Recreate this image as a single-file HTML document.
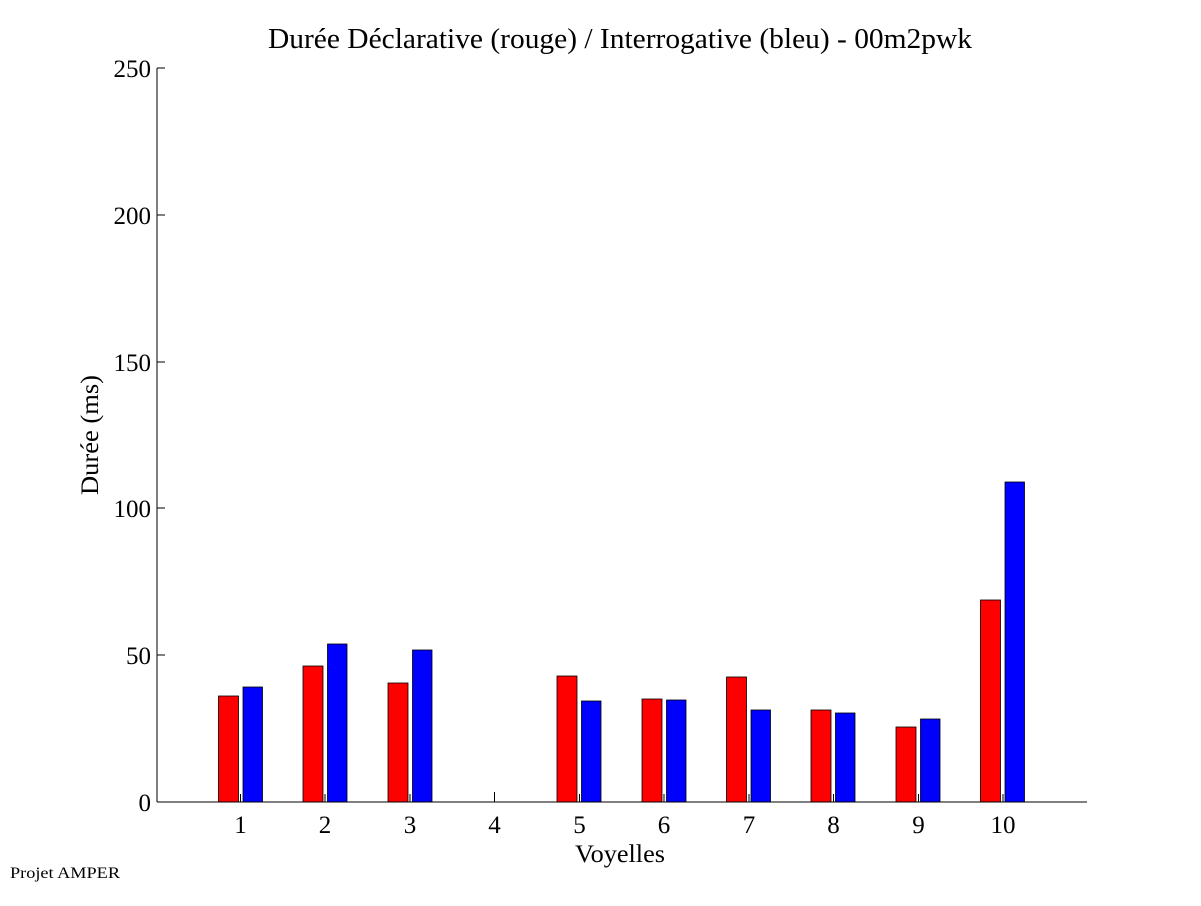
<!DOCTYPE html>
<html><head><meta charset="utf-8"><style>body{margin:0;background:#fff}</style></head><body>
<svg width="1201" height="901" xmlns="http://www.w3.org/2000/svg" font-family="Liberation Serif, serif">
<rect width="1201" height="901" fill="#fff"/>
<text x="268" y="48" font-size="28" textLength="704" lengthAdjust="spacingAndGlyphs">Durée Déclarative (rouge) / Interrogative (bleu) - 00m2pwk</text>
<g stroke="#000" stroke-width="0.8">
<rect x="218.5" y="696" width="20" height="106" fill="#f00"/><rect x="243" y="687" width="19.5" height="115" fill="#00f"/>
<rect x="303" y="666" width="20" height="136" fill="#f00"/><rect x="327.5" y="644" width="19.5" height="158" fill="#00f"/>
<rect x="388" y="683" width="20" height="119" fill="#f00"/><rect x="412.5" y="650" width="19.5" height="152" fill="#00f"/>
<rect x="557" y="676" width="20" height="126" fill="#f00"/><rect x="581.5" y="701" width="19.5" height="101" fill="#00f"/>
<rect x="642" y="699" width="20" height="103" fill="#f00"/><rect x="666.5" y="700" width="19.5" height="102" fill="#00f"/>
<rect x="726.5" y="677" width="20" height="125" fill="#f00"/><rect x="751" y="710" width="19.5" height="92" fill="#00f"/>
<rect x="811" y="710" width="20" height="92" fill="#f00"/><rect x="835.5" y="713" width="19.5" height="89" fill="#00f"/>
<rect x="896" y="727" width="20" height="75" fill="#f00"/><rect x="920.5" y="719" width="19.5" height="83" fill="#00f"/>
<rect x="980.5" y="600" width="20" height="202" fill="#f00"/><rect x="1005" y="482" width="19.5" height="320" fill="#00f"/>
</g>
<g stroke="#000" stroke-width="1">
<line x1="157" y1="68" x2="157" y2="802"/><line x1="157" y1="802" x2="1087" y2="802"/>
<line x1="157" y1="68" x2="165" y2="68"/><line x1="157" y1="215" x2="165" y2="215"/><line x1="157" y1="362" x2="165" y2="362"/><line x1="157" y1="508" x2="165" y2="508"/><line x1="157" y1="655" x2="165" y2="655"/>
<line x1="240.5" y1="794" x2="240.5" y2="802"/><line x1="325" y1="794" x2="325" y2="802"/><line x1="410" y1="794" x2="410" y2="802"/><line x1="494.5" y1="792" x2="494.5" y2="802"/><line x1="579.5" y1="794" x2="579.5" y2="802"/><line x1="664" y1="794" x2="664" y2="802"/><line x1="749" y1="794" x2="749" y2="802"/><line x1="833.5" y1="794" x2="833.5" y2="802"/><line x1="918.5" y1="794" x2="918.5" y2="802"/><line x1="1003" y1="794" x2="1003" y2="802"/>
</g>
<g font-size="25" text-anchor="end">
<text x="151" y="77">250</text><text x="151" y="224">200</text><text x="151" y="371">150</text><text x="151" y="517">100</text><text x="151" y="664">50</text><text x="151" y="811">0</text>
</g>
<g font-size="25" text-anchor="middle">
<text x="240.5" y="833">1</text><text x="325" y="833">2</text><text x="410" y="833">3</text><text x="494.5" y="833">4</text><text x="579.5" y="833">5</text><text x="664" y="833">6</text><text x="749" y="833">7</text><text x="833.5" y="833">8</text><text x="918.5" y="833">9</text><text x="1003" y="833">10</text>
</g>
<text x="575" y="862" font-size="25" textLength="90" lengthAdjust="spacingAndGlyphs">Voyelles</text>
<text transform="translate(98,495) rotate(-90)" font-size="25" textLength="120" lengthAdjust="spacingAndGlyphs">Durée (ms)</text>
<text x="10" y="878" font-size="16" textLength="110" lengthAdjust="spacingAndGlyphs">Projet AMPER</text>
</svg>
</body></html>
